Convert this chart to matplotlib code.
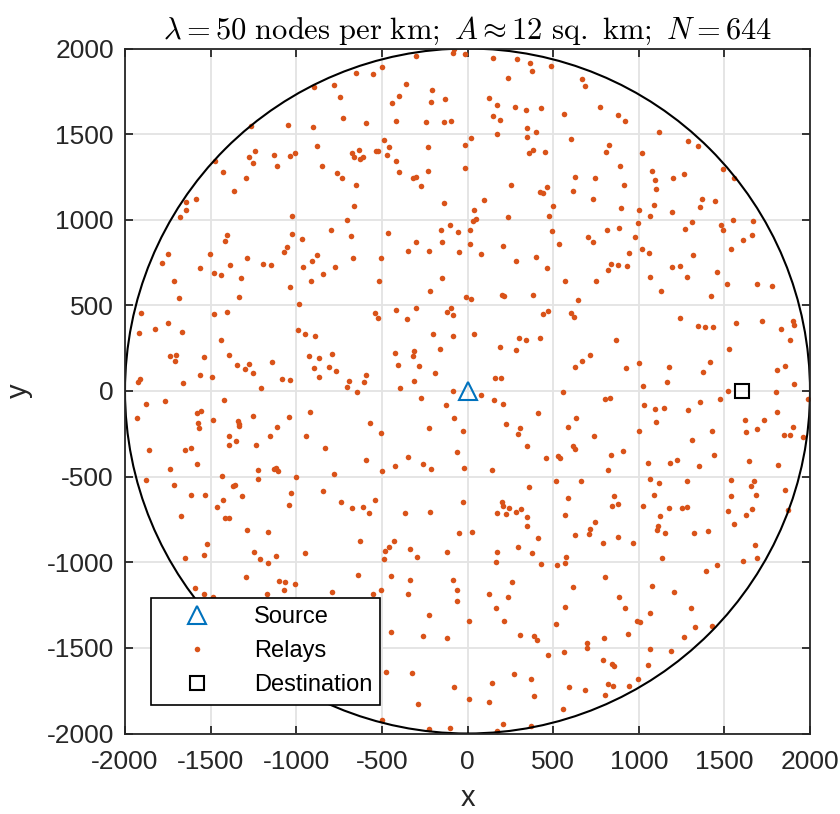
import matplotlib as mpl
import matplotlib.pyplot as plt
from matplotlib.patches import Circle

mpl.rcParams['font.family'] = ['Liberation Sans', 'DejaVu Sans']
mpl.rcParams['mathtext.fontset'] = 'cm'
mpl.rcParams['axes.unicode_minus'] = False

# deployment disc and terminals
radius = 2000
source_xy = (0, 0)
dest_xy = (1600, 0)
ticks = [-2000, -1500, -1000, -500, 0, 500, 1000, 1500, 2000]

# relay positions, grouped by region (top band, middle band, bottom band)
relay_x = [
    -1263, -1047, -1243, -1278, -1251, -1130, -1111, -1037, -1010, -1475, -1426, -1296, -1366, -1642, -1584, -1642,
    -1681, -1023, -1407, -1417, -1025, -1052, -1074, -1749, -1786, -1504, -1286, -1560, -1387, -1196, -1150, -1482,
    -1440,
    -895, -782, -743, -650, -551, -498, -298, -86, -78, -15, -362, -210, -401, -438, -212, -132, -726, -905, -595,
    -420, -245, -136, -99, -881, -486, -457, -469, -673, -634, -663, -630, -613, -537, -525, -416, -399, -850, -761,
    -730, -654, -662, -706, -317, -298, -270, -229, -229, -12, -12, -136, -965, -798, -681, -881, -908, -961, -772,
    -842, -669, -504, -465, -300, -348, -222, -156, -101, -146, -56, -52,
    150, 288, 366, 378, 488, 235, 666, 687, 123, 173, 276, 339, 428, 148, 189, 566, 771, 880, 918, 346, 171, 350, 399,
    21, 605, 825, 806, 383, 360, 451, 893, 253, 627, 747, 913, 465, 422, 442, 617, 732, 97, 39, 502, 475, 234, 35, 47,
    899, 1002, 996, 16, 16, 76, 208, 282, 399, 467, 494, 537, 701, 734, 817, 887, 981, 944, 839, 876, 934, 819,
    1117, 1288, 1344, 1019, 1080, 1097, 1103, 1200, 1263, 1492, 1558, 1091, 1068, 1195, 1368, 1358, 1446, 1309, 1269,
    1479, 1494, 1551, 1669, 1662, 1607, 1539, 1018, 1062, 1319, 1195, 1243, 1459,
    -1714, -1325, -1035, -1685, -1333, -1909, -1481, -1407, -1749, -1823, -1918, -1667, -1442, -1739, -1704, -1708,
    -1541, -1395, -1346, -1274, -1300, -1253, -1144, -1082, -1037, -1206, -1562, -1492, -1660, -1915, -1922, -1876,
    -1767, -1928, -1424, -1578, -1558, -1484, -1572, -1570, -1340, -1334, -1336, -1251, -1043, -1111, -1156, -1393,
    -1393, -1354, -1237, -1858, -1650, -1613, -1580, -1739, -1226, -1132, -1121, -1107, -1436, -1876, -1224, -1002,
    -1714, -1370, -1356, -1617, -1535, -1428, -1315, -1031, -1045,
    -913, -518, -150, -220, -10, -983, -992, -539, -523, -420, -302, -356, -95, -119, -87, -950, -889, -200, -86, -926,
    -866, -792, -895, -807, -765, -870, -691, -595, -603, -706, -646, -426, -311, -321, -403, -286, -158, -189, -311,
    -393, -85, -270, -128, -78, -918, -568, -504, -226, -29, -942, -831, -593, -350, -424, -261, -214, -60, -19, -782,
    -498, -842, -541, -741, -29,
    568, 753, 19, 200, 214, 383, 644, 442, 471, 605, 619, 37, 300, 342, 426, 187, 286, 868, 714, 669, 629, 926, 1002,
    160, 193, 78, 557, 154, 210, 802, 833, 414, 632, 226, 306, 294, 586, 739, 348, 617, 628, 461, 529, 539, 909, 837,
    819, 142, 514, 662, 362, 586, 856, 880, 200,
    1064, 1284, 1518, 1689, 1780, 1128, 1424, 1241, 1344, 1385, 1436, 1570, 1720, 1901, 1909, 1829, 1883, 1527, 1175,
    1418, 1376, 1808, 1856, 1163, 1025, 1905, 1520, 1802, 1989, 1033, 1097, 1146, 1356, 1473, 1290, 1806, 1103, 1621,
    1734, 1004, 1428, 1689, 1629, 1901, 1848, 1885, 1959, 1309, 1440, 1054, 1183, 1224, 1354, 1644, 1811, 1068, 1117,
    1280, 1537, 1673, 1654, 1090, 1539, 1687, 1852,
    -1461, -1671, -1418, -1395, -1288, -1165, -1519, -1537, -1650, -1247, -1210, -1167, -1121, -1292, -1099, -1064,
    -1074, -1008, -1590, -1541, -1488, -1169,
    -675, -609, -574, -366, -218, -50, -630, -428, -459, -481, -486, -335, -292, -122, -946, -638, -447, -333, -87,
    -62, -62, -792, -553, -508, -346, -226, -445, -259, -119, -473, -327, -76, -288, -498, -224, -103,
    206, 243, 284, 315, 173, 222, 350, 348, 568, 845, 29, 413, 296, 171, 169, 379, 428, 523, 570, 576, 629, 708, 716,
    745, 794, 876, 969, 259, 126, 239, 167, 212, 6, 615, 570, 516, 802, 887, 917, 987, 306, 389, 405, 938, 697, 700,
    798, 469, 564, 792, 845, 858, 274, 144, 372, 8, 125, 387, 594, 685, 823, 850, 944, 996, 800, 559, 206, 173, 372,
    1027, 1175, 1253, 1280, 1523, 1660, 1870, 1125, 1115, 1105, 1154, 1325, 1403, 1555, 1627, 1679, 1691, 1607, 1138,
    1459, 1391, 1080, 1206, 1307, 1068, 1006, 1331, 1428, 1263, 1066, 1189, 1053,
]
relay_y = [
    1549, 1551, 1403, 1368, 1331, 1381, 1315, 1374, 1387, 1341, 1280, 1245, 1168, 1103, 1123, 1055,
    1016, 1022, 909, 876, 917, 843, 814, 800, 750, 800, 777, 720, 734, 742, 738, 691,
    676,
    1774, 1786, 1714, 1856, 1850, 1891, 1959, 1974, 1995, 1967, 1790, 1760, 1725, 1683, 1687, 1704, 1597, 1541, 1564,
    1574, 1568, 1570, 1576, 1432, 1465, 1426, 1378, 1391, 1405, 1368, 1356, 1368, 1399, 1399, 1343, 1276, 1311, 1273,
    1241, 1205, 1078, 998, 1243, 1247, 1195, 1424, 1286, 1434, 1304, 1098, 886, 942, 907, 794, 757, 722, 722,
    684, 775, 777, 921, 872, 816, 818, 940, 971, 872, 927, 814,
    1947, 1941, 1914, 1869, 1899, 1827, 1819, 1780, 1710, 1671, 1661, 1638, 1654, 1603, 1580, 1619, 1661, 1609, 1578,
    1533, 1500, 1484, 1512, 1475, 1473, 1434, 1397, 1407, 1387, 1397, 1313, 1203, 1249, 1241, 1205, 1193, 1164, 1154,
    1166, 1121, 1113, 1057, 1080, 1022, 1018, 995, 1004, 1068, 1059, 983, 938, 857, 802, 845, 757, 781, 719, 932,
    860, 901, 872, 942, 952, 897, 808, 740, 734, 730, 705,
    1510, 1459, 1432, 1391, 1284, 1234, 1177, 1241, 1265, 1294, 1245, 1086, 1022, 1043, 1119, 1074, 1109, 985, 944,
    971, 940, 998, 993, 911, 884, 827, 827, 804, 796, 726, 732, 695,
    645, 659, 608, 542, 546, 453, 451, 463, 400, 362, 340, 342, 299, 204, 210, 177,
    198, 210, 154, 159, 128, 105, 171, 72, 64, 17, 93, 80, 49, 68, 54, -76,
    -60, -157, -54, -130, -115, -169, -189, -214, -177, -191, -206, -148, -154, -212, -260, -262,
    -315, -292, -313, -344, -344, -330, -424, -453, -461, -453, -447, -469, -498, -517, -513, -500,
    -550, -556, -550, -610, -605, -634, -616, -597, -663,
    643, 643, 657, 585, 550, 507, 358, 455, 426, 472, 486, 420, 486, 463, 445, 330, 323, 330, 323, 204,
    191, 218, 136, 140, 117, 84, 60, 91, 52, 25, -8, 222, 235, 206, 152, 144, 243, 107, 58,
    17, -2, -41, -80, -156, -121, -185, -245, -214, -231, -264, -332, -400, -385, -439, -424, -453, -354, -447, -486,
    -470, -583, -634, -647, -651,
    645, 641, 538, 558, 554, 558, 531, 449, 470, 453, 432, 330, 309, 299, 309, 257, 239, 297, 212, 173, 142, 136, 165,
    78, 74, -21, -8, -51, -74, -45, -39, -128, -159, -194, -216, -253, -208, -262, -319, -321, -336, -391, -377, -393,
    -348, -375, -461, -461, -525, -523, -558, -624, -616, -659, -649,
    665, 663, 626, 622, 614, 585, 554, 426, 377, 373, 375, 395, 410, 410, 383, 362, 297, 245, 140,
    171, 113, 121, 148, 54, 27, 43, -2, -8, -47, -82, -103, -99, -62, -47, -111, -122, -181, -169,
    -171, -231, -233, -220, -241, -208, -259, -259, -268, -288, -373, -422, -418, -400, -439, -408, -434, -511, -538,
    -527, -519, -527, -552, -608, -614, -610, -581,
    -677, -730, -743, -743, -813, -823, -893, -959, -977, -942, -983, -1002, -963, -1084, -1111, -1117,
    -1163, -1126, -1148, -1187, -1204, -1187,
    -683, -677, -712, -710, -705, -829, -876, -876, -909, -934, -979, -924, -971, -940, -948, -1074, -1082, -1103,
    -1105, -1161, -1224, -1175, -1185, -1163, -1187, -1309, -1408, -1428, -1443, -1643, -1645, -1731, -1830, -1923,
    -1974, -1966,
    -671, -685, -705, -691, -710, -718, -734, -788, -726, -671, -825, -856, -913, -942, -996, -948, -1012, -1014,
    -1004, -971, -839, -835, -806, -763, -885, -850, -885, -1115, -1185, -1200, -1268, -1344, -1344, -1144, -1262,
    -1361, -1084, -1200, -1268, -1342, -1424, -1430, -1455, -1418, -1472, -1502, -1441, -1540, -1525, -1568, -1597,
    -1608, -1651, -1704, -1682, -1801, -1816, -1783, -1729, -1745, -1713, -1721, -1721, -1680, -1774, -1859, -1943,
    -1984, -1955,
    -673, -681, -685, -679, -701, -689, -697, -732, -788, -813, -831, -829, -815, -776, -724, -899, -973, -990, -977,
    -1014, -1051, -1138, -1175, -1266, -1297, -1350, -1379, -1373, -1435, -1507, -1517, -1601,
]

fig = plt.figure(figsize=(8.4, 8.14), dpi=100)
ax = fig.add_axes([125 / 840, 80 / 814, 685 / 840, 686 / 814])

relays, = ax.plot(relay_x, relay_y, 'o', color='#D95319', ms=4.0, mew=0, label='Relays', zorder=3)
src, = ax.plot(*source_xy, '^', mfc='none', mec='#0072BD', ms=13, mew=1.5, label='Source', zorder=4)
dst, = ax.plot(*dest_xy, 's', mfc='none', mec='k', ms=10, mew=1.5, label='Destination', zorder=4)
ax.add_patch(Circle((0, 0), radius, fill=False, ec='k', lw=1.5, zorder=4))

ax.set_xlim(-radius, radius)
ax.set_ylim(-radius, radius)
ax.set_aspect('equal')
ax.set_xticks(ticks)
ax.set_yticks(ticks)
ax.grid(True, color='#e3e3e3', lw=1.3)
ax.set_axisbelow(True)
for s in ax.spines.values():
    s.set_color('#262626')
    s.set_linewidth(1.3)
    s.set_zorder(5)
ax.tick_params(direction='in', length=6, width=1.3, top=True, right=True,
               labelsize=19, colors='#262626')
ax.tick_params(axis='x', pad=12)
ax.tick_params(axis='y', pad=8)

ax.set_xlabel('x', fontsize=21, color='#262626', labelpad=7)
ax.set_ylabel('y', fontsize=21, color='#262626', labelpad=10)
ax.set_title(r'$\lambda = 50\ \mathrm{nodes\ per\ km;}\ A \approx 12\ \mathrm{sq.\ km;}\ N = 644$',
             fontsize=22, pad=7)

leg = ax.legend(handles=[src, relays, dst], loc='lower left', bbox_to_anchor=(0.038, 0.042),
                fontsize=17, frameon=True, fancybox=False, edgecolor='k', framealpha=1,
                borderpad=0.35, labelspacing=0.52, handlelength=3.2, handletextpad=0.8,
                borderaxespad=0)
leg.get_frame().set_linewidth(1.2)
leg.set_zorder(6)

fig.savefig('out.png', dpi=100)
